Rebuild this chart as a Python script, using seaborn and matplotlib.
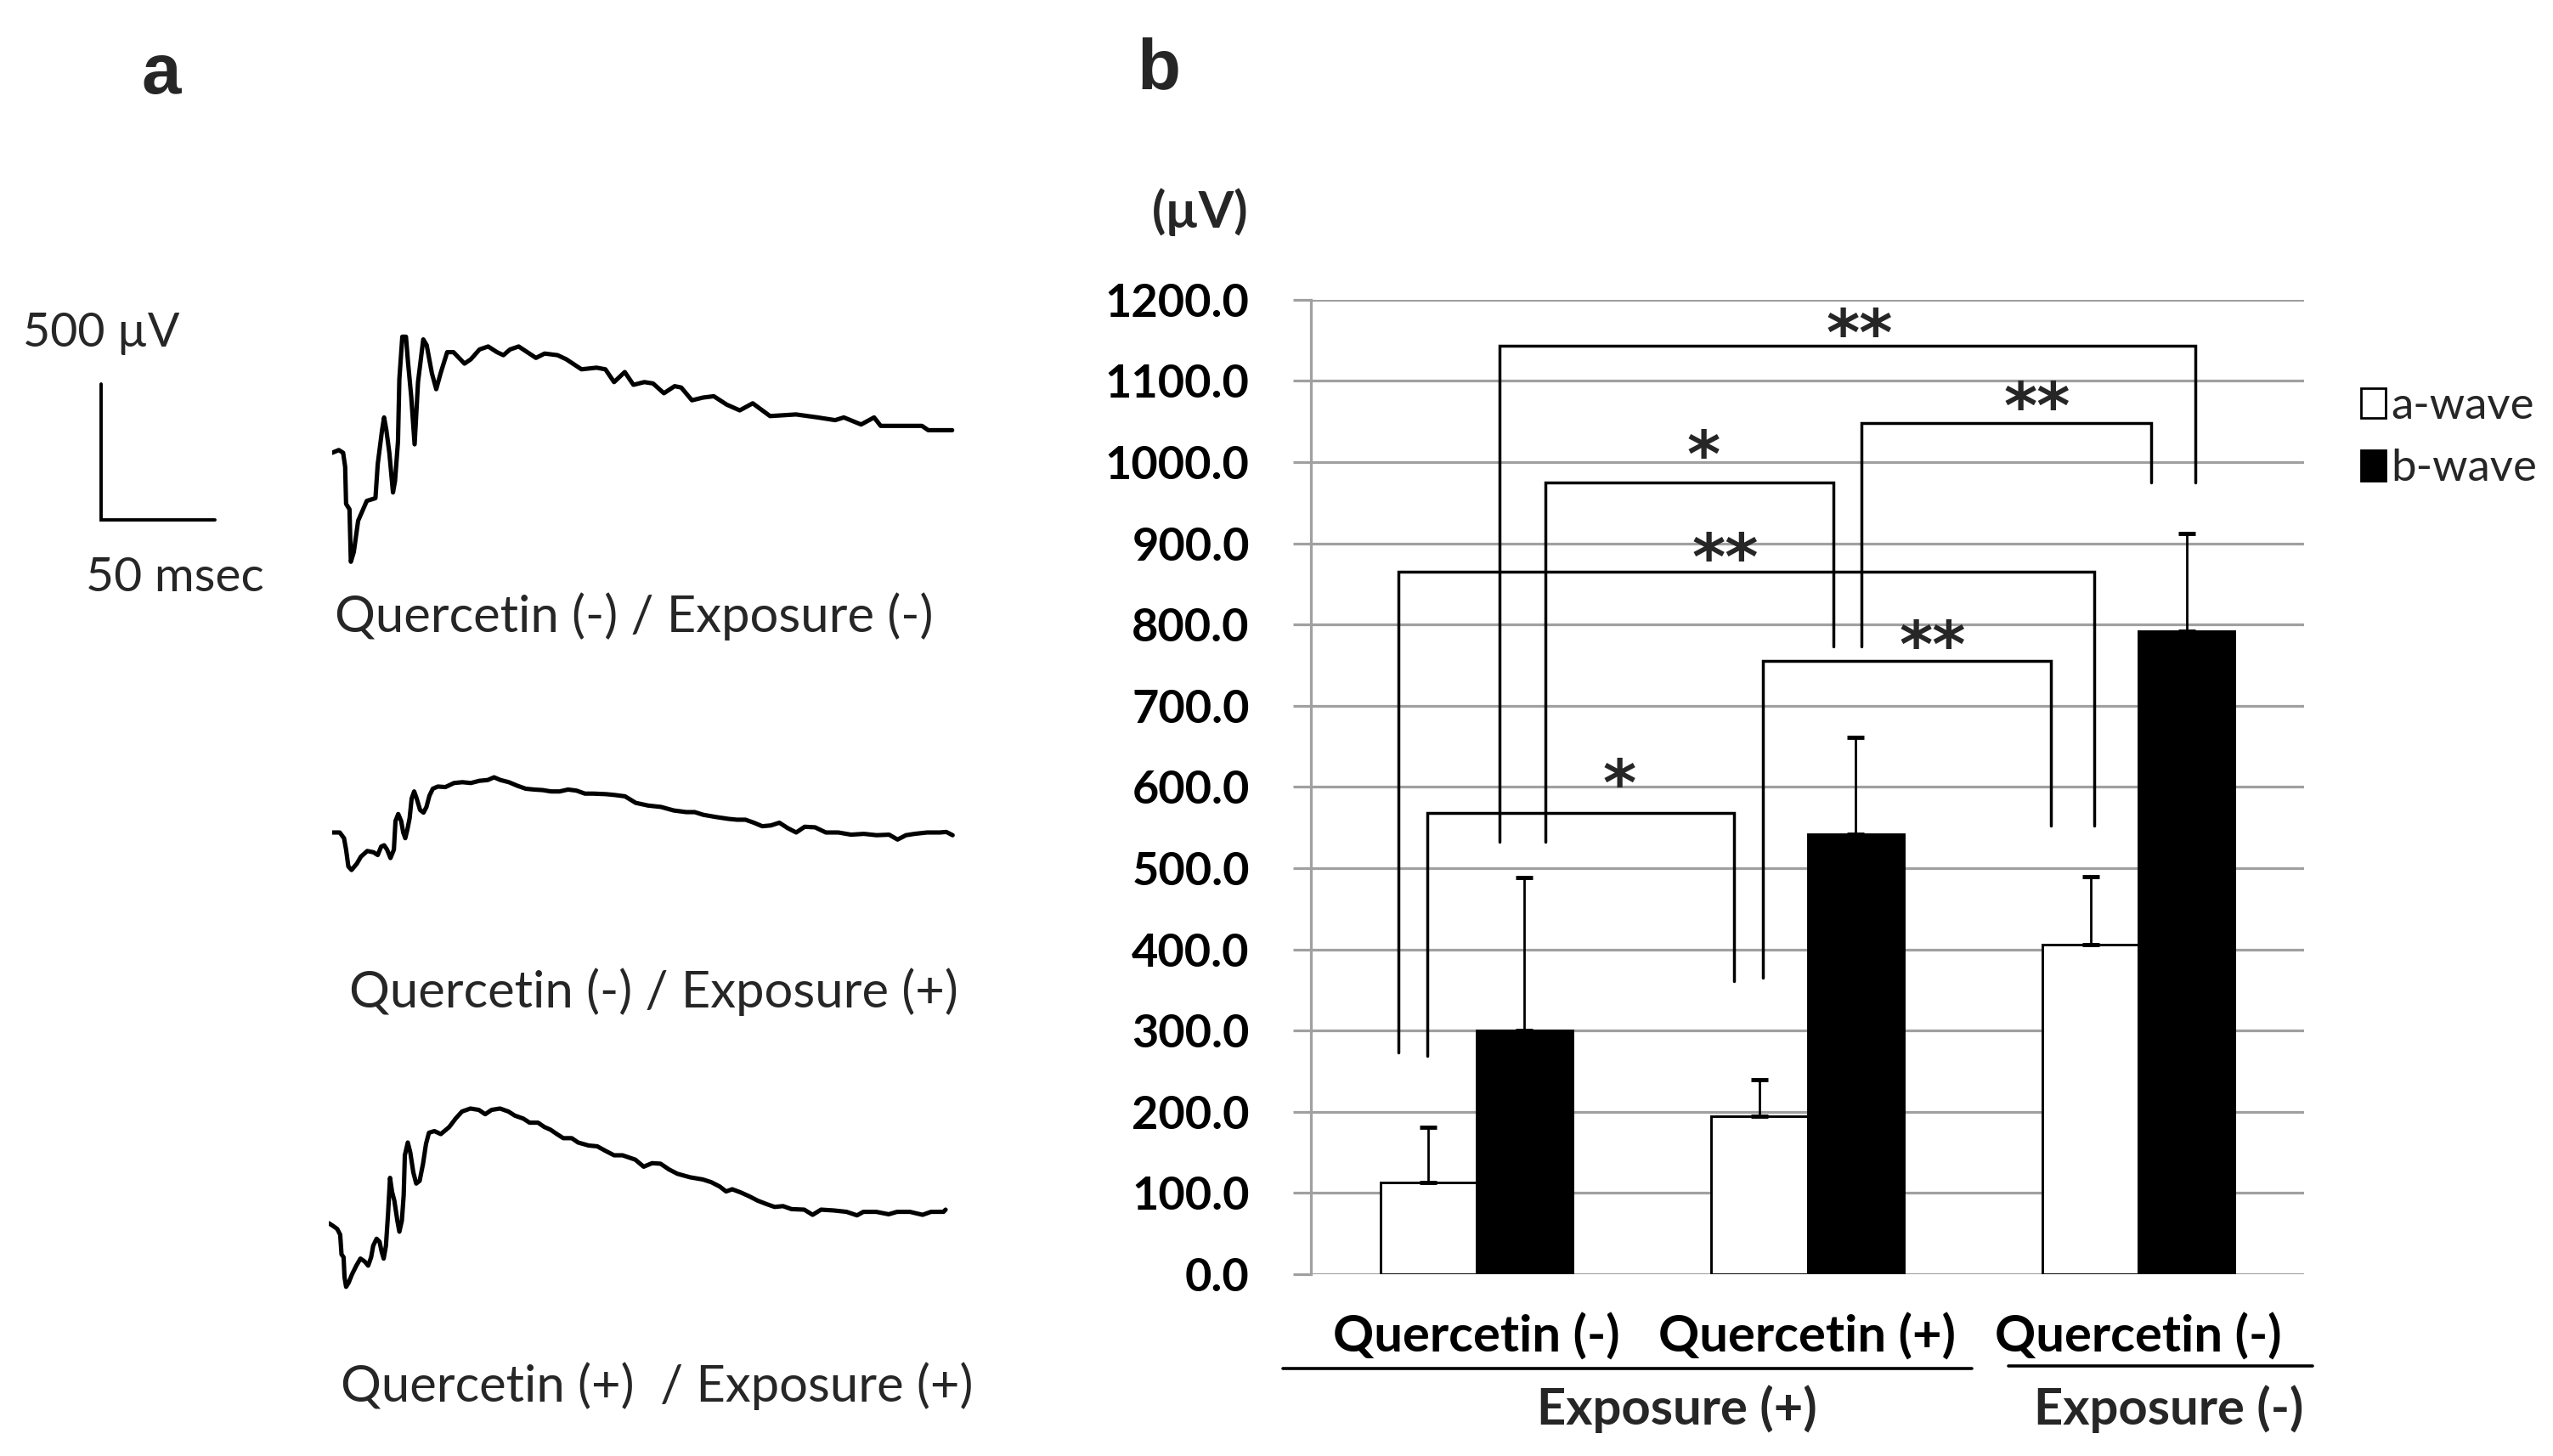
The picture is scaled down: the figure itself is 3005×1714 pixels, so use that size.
import numpy as np
import pandas as pd
import matplotlib
matplotlib.use("Agg")
import matplotlib.pyplot as plt
from matplotlib.lines import Line2D
from matplotlib.patches import Patch
import seaborn as sns

# ---------------- data ----------------
groups = ["Q- / E+", "Q+ / E+", "Q- / E-"]
group_labels = ["Quercetin (-)", "Quercetin (+)", "Quercetin (-)"]
exposure_labels = ["Exposure (+)", "Exposure (-)"]
waves = ["a-wave", "b-wave"]
a_wave = [113, 195, 406]
a_wave_err = [68, 45, 84]
b_wave = [300, 542, 792]
b_wave_err = [188, 119, 120]
y_ticks = [0, 100, 200, 300, 400, 500, 600, 700, 800, 900, 1000, 1100, 1200]

# significance brackets (x in category units, y in µV)
sig_labels = ["**", "**", "*", "**", "**", "*"]
sig_x_left = [0.070, 1.163, 0.208, -0.235, 0.865, -0.148]
sig_x_right = [2.171, 2.037, 1.078, 1.865, 1.735, 0.777]
sig_top = [1143, 1048, 975, 865, 755, 568]
sig_left_end = [532, 773, 532, 273, 365, 269]
sig_right_end = [975, 975, 773, 552, 552, 361]
sig_text_x = [1.158, 1.693, 0.686, 0.752, 1.378, 0.433]
sig_text_y = [1175, 1085, 1025, 899, 791, 621]

# ERG traces: time (ms) and amplitude (µV) relative to the trace start
trace_names = ["Quercetin (-) / Exposure (-)", "Quercetin (-) / Exposure (+)",
               "Quercetin (+)  / Exposure (+)"]
trace1_t = [0, 2.9, 4.8, 5.7, 6.1, 7.6, 8.2, 9.5, 11.4, 15.2, 19.0, 20.0, 21.9, 22.8, 23.8,
            25.1, 26.7, 27.6, 28.9, 29.5, 30.8, 32.4, 33.3, 34.7, 36.2, 37.7, 40.0, 41.5,
            43.8, 45.7, 47.6, 50.5, 53.3, 58.1, 60.9, 64.7, 68.5, 72.4, 75.2, 78.1, 81.9,
            85.7, 89.5, 93.3, 99.0, 102.8, 106.6, 109.5, 116.1, 120.0, 123.8, 128.5, 132.3,
            137.1, 140.9, 145.7, 150.4, 153.3, 158.0, 162.8, 167.6, 173.3, 179.0, 184.7,
            192.3, 203.7, 213.2, 220.9, 224.7, 232.3, 238.0, 240.9, 259.0, 261.8, 272.3]
trace1_v = [0, 10, 0, -52, -188, -208, -401, -365, -250, -177, -167, -42, 83, 130, 83,
            0, -146, -104, 42, 271, 427, 427, 333, 208, 31, 260, 417, 396,
            292, 234, 292, 370, 370, 328, 344, 380, 391, 370, 359, 380, 391,
            370, 349, 365, 359, 344, 323, 307, 313, 307, 260, 297, 250,
            260, 255, 219, 245, 240, 193, 203, 208, 177, 156, 182,
            135, 141, 130, 120, 130, 104, 130, 99, 99, 83, 83]
trace2_t = [0, 3.3, 5.2, 6.1, 7.1, 8.5, 10.8, 12.6, 15.4, 18.2, 20.0, 21.5, 22.8, 24.1,
            25.6, 27.1, 27.8, 29.0, 30.3, 31.2, 32.1, 33.0, 34.0, 34.9, 36.0, 37.1, 38.6,
            40.1, 41.4, 42.7, 44.2, 46.4, 49.7, 53.5, 57.2, 60.9, 64.6, 68.3, 71.1, 73.9,
            77.6, 81.3, 85.0, 88.7, 92.4, 96.1, 99.9, 103.6, 107.3, 111.0, 114.7, 120.3,
            124.0, 128.6, 133.3, 138.8, 144.4, 150.0, 155.5, 159.2, 163.0, 168.5, 174.1,
            177.8, 181.5, 185.2, 188.9, 192.7, 196.4, 200.1, 203.8, 207.5, 212.1, 216.8,
            222.3, 227.9, 233.5, 239.1, 244.6, 248.3, 252.0, 255.8, 261.3, 266.9, 269.7, 272.5]
trace2_v = [0, 0, -21, -63, -125, -138, -115, -89, -68, -73, -83, -52, -47, -63,
            -94, -63, 42, 68, 42, 0, -21, 10, 52, 125, 151, 125, 83,
            73, 94, 135, 161, 169, 167, 182, 185, 182, 190, 193, 203, 193,
            185, 172, 161, 158, 156, 151, 151, 158, 154, 143, 143, 141,
            138, 133, 109, 99, 94, 81, 75, 75, 65, 57, 50,
            47, 47, 36, 23, 26, 36, 16, 0, 21, 19, 0,
            0, -8, -5, -10, -8, -26, -10, -5, 0, 0, 2, -10]
trace3_t = [0, 1.9, 3.7, 5.0, 5.6, 6.5, 6.9, 7.6, 8.7, 10.2, 12.1, 13.9, 15.8, 17.3, 18.6,
            19.5, 21.0, 22.3, 23.2, 24.1, 25.1, 26.0, 26.9, 27.8, 28.8, 30.1, 31.0, 32.1,
            32.9, 33.4, 34.7, 35.8, 37.1, 38.4, 39.9, 41.4, 42.7, 44.0, 46.4, 49.2, 52.9,
            55.7, 58.5, 62.2, 65.9, 68.7, 71.5, 75.2, 78.9, 81.7, 85.4, 88.2, 91.9, 94.7,
            97.4, 100.2, 103.0, 106.7, 109.5, 114.1, 117.9, 121.6, 125.3, 129.0, 134.6,
            138.3, 142.0, 145.7, 149.4, 153.1, 158.7, 164.3, 168.0, 171.7, 174.5, 177.2,
            181.0, 184.7, 188.4, 192.1, 195.8, 199.5, 203.2, 208.8, 212.5, 216.2, 221.8,
            227.4, 232.0, 234.8, 240.4, 245.9, 249.6, 255.2, 260.8, 264.5, 270.0, 270.9]
trace3_v = [0, -10, -21, -42, -115, -125, -198, -234, -219, -188, -156, -130, -141, -156, -125,
            -83, -57, -68, -104, -130, -83, 31, 167, 115, 83, 10, -31, 10,
            104, 250, 297, 260, 188, 146, 156, 219, 292, 333, 339, 328, 354,
            385, 411, 422, 417, 401, 417, 422, 411, 396, 385, 370, 370, 354,
            344, 328, 313, 313, 297, 286, 283, 266, 250, 250, 234,
            208, 221, 219, 198, 182, 169, 161, 151, 135, 117, 125,
            113, 99, 83, 71, 60, 63, 52, 50, 31, 50, 47,
            42, 29, 42, 42, 33, 42, 42, 31, 42, 42, 50]
scale_ms = 50
scale_uv = 500

# ---------------- layout ----------------
W, H = 3005, 1714
DPI = 100
PX_PER_MS = 134 / 50.0
PX_PER_UV = 160 / 500.0

sns.set_theme(style="white")
plt.rcParams["font.family"] = ["Lato", "DejaVu Sans"]

fig = plt.figure(figsize=(W / DPI, H / DPI), dpi=DPI)
fig.patch.set_facecolor("white")


def fx(px):
    return px / W


def fy(py):
    return 1 - py / H


# ---------------- panel a: ERG traces ----------------
trace_t = [trace1_t, trace2_t, trace3_t]
trace_v = [trace1_v, trace2_v, trace3_v]
trace_origin = [(391, 533), (391, 980), (387, 1440)]
ax_w_px, half_h_px = 780, 260
for t, v, (x0, y0) in zip(trace_t, trace_v, trace_origin):
    axt = fig.add_axes([fx(x0), fy(y0 + half_h_px), ax_w_px / W, 2 * half_h_px / H])
    sns.lineplot(x=t, y=v, ax=axt, sort=False, estimator=None, color="black",
                 linewidth=3.7)
    axt.set_xlim(0, ax_w_px / PX_PER_MS)
    axt.set_ylim(-half_h_px / PX_PER_UV, half_h_px / PX_PER_UV)
    axt.axis("off")

# scale bar
axs = fig.add_axes([fx(119), fy(612), 134 / W, 160 / H])
axs.plot([0, 0, scale_ms], [scale_uv, 0, 0], color="black", linewidth=2.8,
         solid_joinstyle="miter", clip_on=False)
axs.set_xlim(0, scale_ms)
axs.set_ylim(0, scale_uv)
axs.axis("off")

fig.text(fx(119), fy(393), "500 \u00b5V", fontsize=40, ha="center", va="center")
fig.text(fx(206), fy(680), "50 msec", fontsize=41, ha="center", va="center")
label_pos = [(746, 726), (769, 1168), (773, 1632)]
for name, (x, y) in zip(trace_names, label_pos):
    fig.text(fx(x), fy(y), name, fontsize=43, ha="center", va="center")

fig.text(fx(190), fy(110), "a", fontsize=60, fontweight="bold",
         family=["Liberation Sans", "DejaVu Sans"], ha="center", va="baseline")
fig.text(fx(1364), fy(104), "b", fontsize=60, fontweight="bold",
         family=["Liberation Sans", "DejaVu Sans"], ha="center", va="baseline")

# ---------------- panel b: bar chart ----------------
ax = fig.add_axes([fx(1543), fy(1500), (2712 - 1543) / W, (1500 - 352.7) / H])
df = pd.DataFrame({
    "group": groups * 2,
    "wave": [waves[0]] * 3 + [waves[1]] * 3,
    "value": a_wave + b_wave,
})
sns.barplot(data=df, x="group", y="value", hue="wave", order=groups, hue_order=waves,
            palette={"a-wave": "white", "b-wave": "black"}, edgecolor="black",
            linewidth=2.1, width=0.58, errorbar=None, legend=False, ax=ax, zorder=3)

for cont, errs in zip(ax.containers, [a_wave_err, b_wave_err]):
    xs = [b.get_x() + b.get_width() / 2 for b in cont]
    tops = [b.get_height() for b in cont]
    ax.errorbar(xs, tops, yerr=[np.zeros(len(errs)), errs], fmt="none",
                ecolor="black", elinewidth=2.0, capsize=7, capthick=3.5, zorder=4)

ax.set_xlim(-0.5, 2.5)
ax.set_ylim(0, 1200)
ax.set_yticks(y_ticks)
ax.set_yticklabels([f"{v:.1f}" for v in y_ticks], fontsize=39, fontweight="bold")
ax.set_xticks(range(len(groups)))
ax.set_xticklabels(group_labels, fontsize=43, fontweight="bold")
ax.set_xlabel("")
ax.set_ylabel("")
ax.grid(axis="y", color="#a0a0a0", linewidth=2.3)
ax.grid(axis="x", visible=False)
ax.set_axisbelow(True)
for s in ["top", "right", "bottom"]:
    ax.spines[s].set_visible(False)
ax.spines["left"].set_color("#a0a0a0")
ax.spines["left"].set_linewidth(2.3)
ax.tick_params(axis="y", length=15, width=2.3, color="#a0a0a0", pad=37, left=True,
               labelcolor="black")
ax.tick_params(axis="x", length=0, pad=33, labelcolor="black")

# significance brackets
star_size = 54
for lab, xl, xr, top, le, re, tx, ty in zip(sig_labels, sig_x_left, sig_x_right, sig_top,
                                             sig_left_end, sig_right_end, sig_text_x,
                                             sig_text_y):
    ax.plot([xl, xl, xr, xr], [le, top, top, re], color="black", linewidth=2.5,
            solid_joinstyle="miter", zorder=5, clip_on=False)
    ax.annotate(lab, xy=(tx, ty), xytext=(0, -0.55 * star_size), textcoords="offset points",
                ha="center", va="baseline", fontsize=star_size, fontweight="bold",
                family=["DejaVu Sans"], zorder=6)

fig.text(fx(1470), fy(250), "(\u00b5V)", fontsize=43, fontweight="bold", ha="right",
         va="center")

# group underlines and exposure labels
fig.add_artist(Line2D([fx(1510), fx(2321)], [fy(1611), fy(1611)], color="black",
                      linewidth=2.6))
fig.add_artist(Line2D([fx(2364), fx(2722)], [fy(1608), fy(1608)], color="black",
                      linewidth=2.6))
fig.text(fx(1974), fy(1659), exposure_labels[0], fontsize=43, fontweight="bold",
         ha="center", va="center")
fig.text(fx(2553), fy(1659), exposure_labels[1], fontsize=43, fontweight="bold",
         ha="center", va="center")

# legend
handles = [Patch(facecolor="white", edgecolor="black", linewidth=2.0),
           Patch(facecolor="black", edgecolor="black", linewidth=2.0)]
fig.legend(handles, waves, loc="upper left", bbox_to_anchor=(fx(2779), fy(455)),
           bbox_transform=fig.transFigure, frameon=False, fontsize=38,
           handlelength=0.55, handleheight=0.66, handletextpad=0.12, labelspacing=0.5,
           borderpad=0, borderaxespad=0)

fig.savefig("out.png", dpi=DPI, facecolor="white")
